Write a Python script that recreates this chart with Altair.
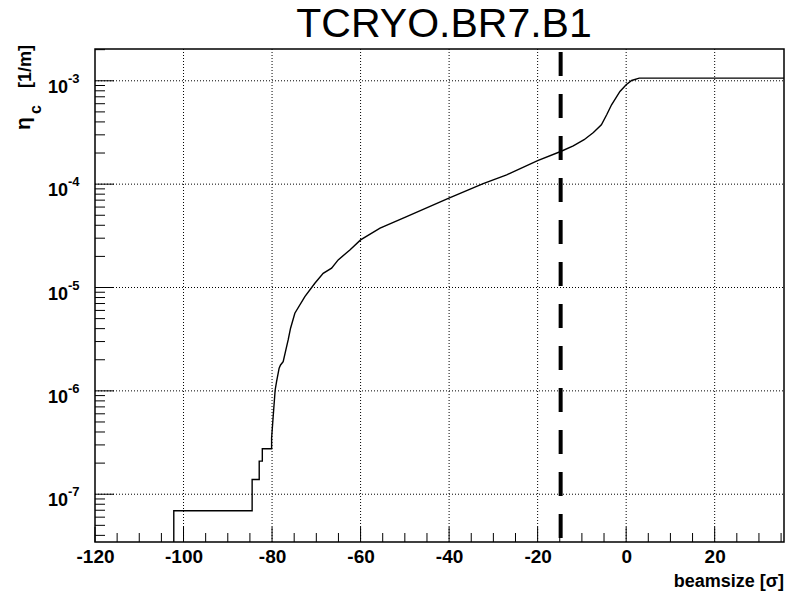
import altair as alt
import pandas as pd

# ---------------- data ----------------
title_text = "TCRYO.BR7.B1"
x_title = "beamsize [σ]"
y_title_main = "η"
y_title_sub = "c"
y_title_unit = "[1/m]"

curve_x = [-102.2, -102.2, -84.5, -84.5, -82.9, -82.9, -82.2, -82.2, -80.1, -80.1,
           -79.75, -79.3, -78.98, -78.4, -78.08, -77.49, -76.88, -76.36, -75.82,
           -74.85, -72.59, -70.33, -68.45, -66.55, -65.06, -62.42, -60.0, -55.6,
           -49.6, -40.05, -32.3, -27.0, -20.0, -14.8, -11.95, -9.5, -7.4, -5.6,
           -4.4, -3.3, -1.4, 0.0, 1.24, 2.96, 35.66]
curve_y = [3.45e-8, 6.92e-8, 6.92e-8, 1.39e-7, 1.39e-7, 2.09e-7, 2.09e-7, 2.75e-7,
           2.75e-7, 3.50e-7, 5.62e-7, 1.02e-6, 1.23e-6, 1.66e-6, 1.78e-6, 1.92e-6,
           2.49e-6, 3.11e-6, 4.04e-6, 5.64e-6, 8.17e-6, 1.10e-5, 1.37e-5, 1.54e-5,
           1.85e-5, 2.31e-5, 2.89e-5, 3.75e-5, 4.86e-5, 7.31e-5, 1.01e-4, 1.23e-4,
           1.69e-4, 2.07e-4, 2.35e-4, 2.69e-4, 3.16e-4, 3.75e-4, 4.69e-4, 5.86e-4,
           7.89e-4, 9.14e-4, 1.007e-3, 1.06e-3, 1.06e-3]

cut_x = [-14.8]

x_domain = [-120, 35.66]
y_domain = [3.45e-8, 2.03e-3]

x_major = [-120, -100, -80, -60, -40, -20, 0, 20]
x_minor = [-115, -110, -105, -95, -90, -85, -75, -70, -65, -55, -50, -45, -35, -30,
           -25, -15, -10, -5, 5, 10, 15, 25, 30, 35]
y_major = [1e-7, 1e-6, 1e-5, 1e-4, 1e-3]
y_major_exp = ["-7", "-6", "-5", "-4", "-3"]
y_minor = [4e-8, 5e-8, 6e-8, 7e-8, 8e-8, 9e-8,
           2e-7, 3e-7, 4e-7, 5e-7, 6e-7, 7e-7, 8e-7, 9e-7,
           2e-6, 3e-6, 4e-6, 5e-6, 6e-6, 7e-6, 8e-6, 9e-6,
           2e-5, 3e-5, 4e-5, 5e-5, 6e-5, 7e-5, 8e-5, 9e-5,
           2e-4, 3e-4, 4e-4, 5e-4, 6e-4, 7e-4, 8e-4, 9e-4,
           2e-3]

# ---------------- layout ----------------
W, H = 689, 493
FONT = "Liberation Sans"

xs = alt.Scale(domain=x_domain, nice=False, zero=False)
ys = alt.Scale(type="log", domain=y_domain, nice=False)

curve_df = pd.DataFrame({"x": curve_x, "y": curve_y, "i": list(range(len(curve_x)))})

x_axis = alt.Axis(values=x_major, labelExpr="datum.value + ''", labelFont=FONT,
                  labelFontWeight="bold", labelFontSize=19, labelColor="black",
                  ticks=False, domain=False, grid=False, title=None,
                  labelPadding=5, labelFlush=False, labelOverlap=False)


def XQ(field):
    return alt.X(field, type="quantitative", scale=xs, axis=x_axis)


def YQ(field):
    return alt.Y(field, type="quantitative", scale=ys, axis=None)


curve = alt.Chart(curve_df).mark_line(color="black", strokeWidth=1.4, clip=True).encode(
    x=XQ("x"),
    y=YQ("y"),
    order=alt.Order("i", type="quantitative"),
)

# grid
xg_df = pd.DataFrame({"v": x_major[1:]})
yg_df = pd.DataFrame({"v": y_major})
grid_x = alt.Chart(xg_df).mark_rule(color="black", strokeWidth=1, strokeDash=[1, 2]).encode(
    x=XQ("v"), y=alt.value(0), y2=alt.value(H))
grid_y = alt.Chart(yg_df).mark_rule(color="black", strokeWidth=1, strokeDash=[1, 2]).encode(
    y=YQ("v"), x=alt.value(0), x2=alt.value(W))

# ticks (inward)
xt_major = alt.Chart(pd.DataFrame({"v": x_major})).mark_rule(color="black", strokeWidth=1).encode(
    x=XQ("v"), y=alt.value(H), y2=alt.value(H - 15))
xt_minor = alt.Chart(pd.DataFrame({"v": x_minor})).mark_rule(color="black", strokeWidth=1).encode(
    x=XQ("v"), y=alt.value(H), y2=alt.value(H - 9))
yt_major = alt.Chart(pd.DataFrame({"v": y_major})).mark_rule(color="black", strokeWidth=1).encode(
    y=YQ("v"), x=alt.value(0), x2=alt.value(19))
yt_minor = alt.Chart(pd.DataFrame({"v": y_minor})).mark_rule(color="black", strokeWidth=1).encode(
    y=YQ("v"), x=alt.value(0), x2=alt.value(10))

# dashed cut line
cut = alt.Chart(pd.DataFrame({"v": cut_x})).mark_rule(
    color="black", strokeWidth=4, strokeDash=[24, 18], strokeDashOffset=39).encode(
    x=XQ("v"), y=alt.value(0), y2=alt.value(H))

# y labels: 10^n
ylab_df = pd.DataFrame({"v": y_major, "e": y_major_exp})
ylab_base = alt.Chart(ylab_df).mark_text(
    text="10", font=FONT, fontWeight="bold", fontSize=18, align="right",
    baseline="alphabetic", dy=12, color="black").encode(
    y=YQ("v"), x=alt.value(-27))
ylab_exp = alt.Chart(ylab_df).mark_text(
    font=FONT, fontWeight="bold", fontSize=13, align="left",
    baseline="alphabetic", dy=2, color="black").encode(
    y=YQ("v"), x=alt.value(-27), text=alt.Text("e", type="nominal"))

# titles (annotation texts)
title_df = pd.DataFrame({"t": [title_text]})
xtitle_df = pd.DataFrame({"t": [x_title]})
yt1_df = pd.DataFrame({"t": [y_title_main]})
yt2_df = pd.DataFrame({"t": [y_title_sub]})
yt3_df = pd.DataFrame({"t": [y_title_unit]})

title = alt.Chart(title_df).mark_text(font=FONT, fontSize=41, align="center",
                                      baseline="alphabetic", color="black").encode(
    x=alt.value(349), y=alt.value(-12), text=alt.Text("t", type="nominal"))
xtitle = alt.Chart(xtitle_df).mark_text(font=FONT, fontWeight="bold", fontSize=18,
                                        align="right", baseline="alphabetic", color="black").encode(
    x=alt.value(W), y=alt.value(538), text=alt.Text("t", type="nominal"))
yt1 = alt.Chart(yt1_df).mark_text(font=FONT, fontWeight="bold", fontSize=21,
                                  angle=270, align="left", baseline="alphabetic", color="black").encode(
    x=alt.value(-65), y=alt.value(81), text=alt.Text("t", type="nominal"))
yt2 = alt.Chart(yt2_df).mark_text(font=FONT, fontWeight="bold", fontSize=16,
                                  angle=270, align="left", baseline="alphabetic", color="black").encode(
    x=alt.value(-54), y=alt.value(65), text=alt.Text("t", type="nominal"))
yt3 = alt.Chart(yt3_df).mark_text(font=FONT, fontWeight="bold", fontSize=18,
                                  angle=270, align="left", baseline="alphabetic", color="black").encode(
    x=alt.value(-64), y=alt.value(39), text=alt.Text("t", type="nominal"))

chart = alt.layer(
    grid_x, grid_y, xt_major, xt_minor, yt_major, yt_minor, curve, cut,
    ylab_base, ylab_exp, title, xtitle, yt1, yt2, yt3
).properties(
    width=W, height=H,
    autosize=alt.AutoSizeParams(type="none"),
    padding={"left": 95, "top": 49, "right": 8, "bottom": 60},
    background="white",
).configure_view(stroke="black", strokeWidth=1.5)

chart.save("out.html", embed_options={"renderer": "svg", "actions": False})
